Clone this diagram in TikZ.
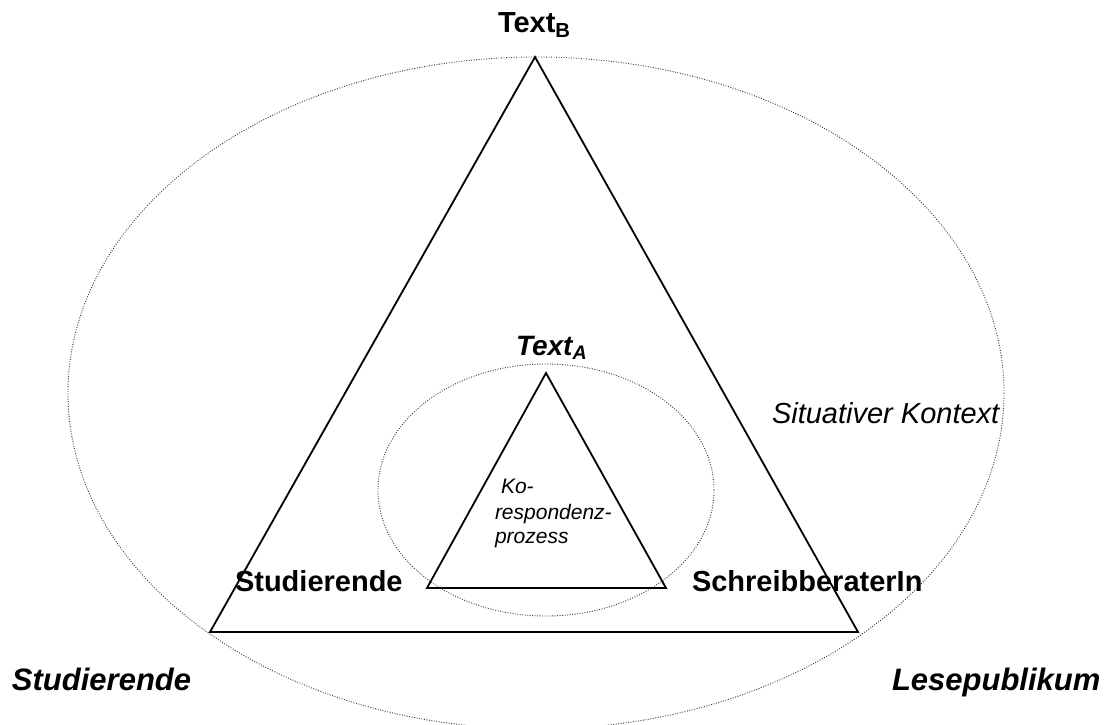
\documentclass[tikz,border=0pt]{standalone}
\usepackage{fontspec}
\setmainfont{Liberation Sans}
\begin{document}
\begin{tikzpicture}[x=1pt,y=-1pt,
  tri/.style={line width=1.8pt,line join=miter},
  ell/.style={line width=0.9pt,dash pattern=on 0.9pt off 1.6pt,black!80},
  lbl/.style={anchor=base west,inner sep=0pt,outer sep=0pt},
  bigbf/.style={lbl,font=\fontsize{29}{34}\selectfont\bfseries},
  corner/.style={lbl,font=\fontsize{31}{36}\selectfont\bfseries\itshape},
  ctx/.style={lbl,font=\fontsize{29}{34}\selectfont\itshape},
  small/.style={lbl,font=\fontsize{21}{24}\selectfont\itshape}]
\useasboundingbox (0,0) rectangle (1111,724);
\fill[white] (0,0) rectangle (1111,724);
% ellipses
\draw[ell] (536,393) ellipse [x radius=468,y radius=336];
\draw[ell] (546,490) ellipse [x radius=168,y radius=126];
% outer triangle
\coordinate (ob) at (535,57);
\coordinate (ol) at (210,632);
\coordinate (or) at (858,632);
\draw[tri] (ob) -- (ol) -- (or) -- cycle;
% inner triangle
\coordinate (ia) at (546,373);
\coordinate (il) at (427,588);
\coordinate (ir) at (666,588);
\draw[tri] (ia) -- (il) -- (ir) -- cycle;
% labels
\node[bigbf,font=\fontsize{29}{34}\selectfont\bfseries] (tB) at (498,32) {Text\textsubscript{B}};
\node[bigbf,font=\fontsize{28}{33}\selectfont\bfseries\itshape] (tA) at (516,355) {Text\textsubscript{A}};
\node[bigbf] (stud) at (235,591) {Studierende};
\node[bigbf] (schr) at (692,591) {SchreibberaterIn};
\node[ctx] (kon) at (772,423) {Situativer Kontext};
\node[corner] (stud2) at (12,690) {Studierende};
\node[corner] (lese) at (892,690) {Lesepublikum};
\node[small] (k1) at (501,493) {Ko-};
\node[small] (k2) at (495,519) {respondenz-};
\node[small] (k3) at (495,543) {prozess};
\end{tikzpicture}
\end{document}
